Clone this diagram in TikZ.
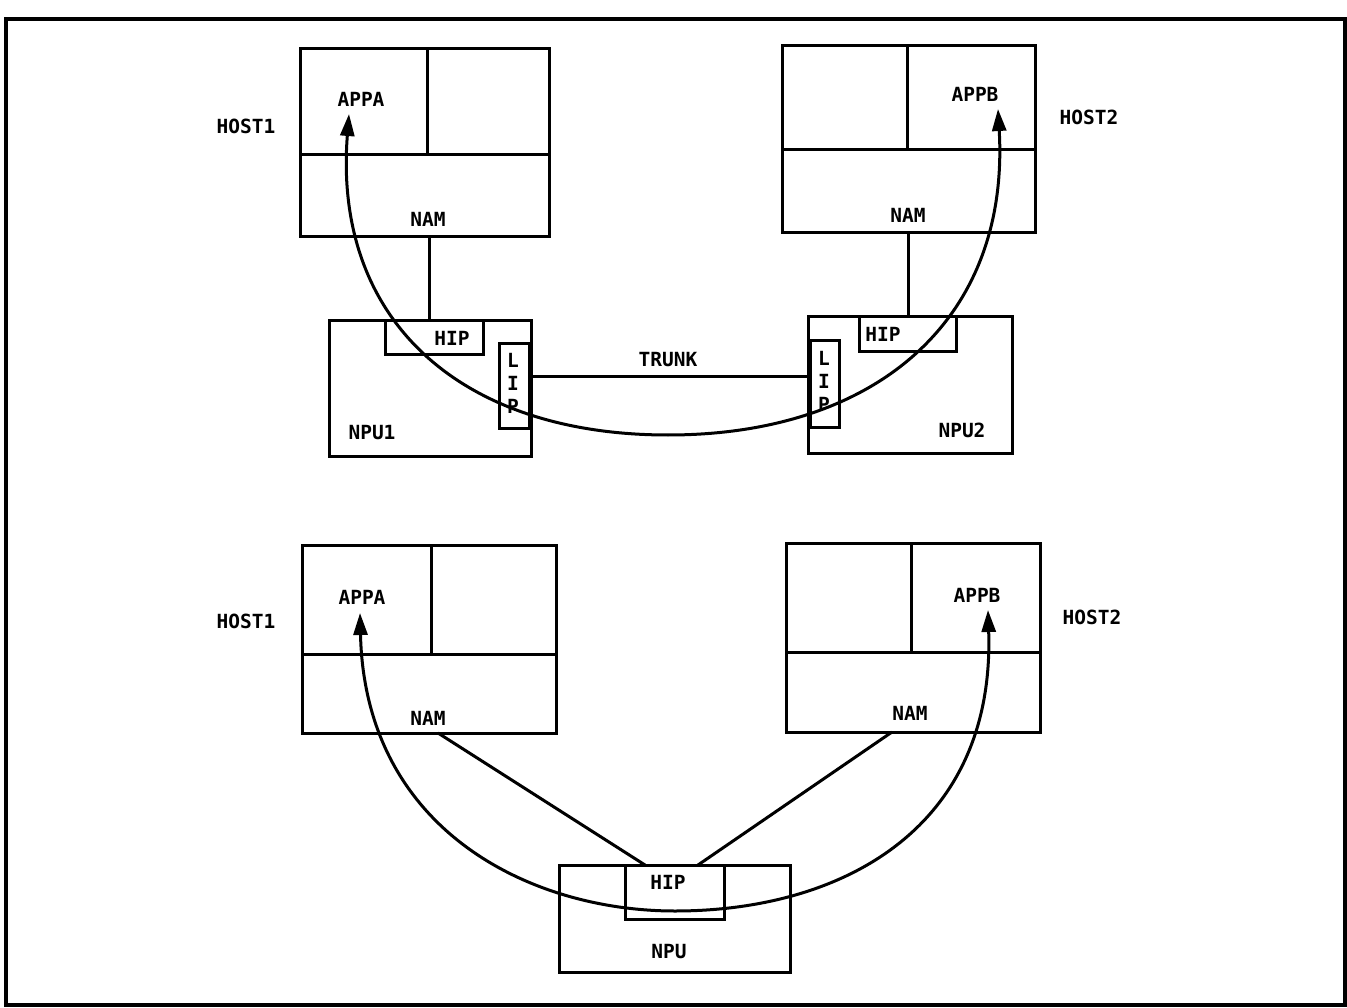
\documentclass[tikz,border=0pt]{standalone}
\usepackage{fontspec}
\newfontfamily\plotfont{DejaVu Sans Mono}
\usetikzlibrary{arrows.meta,calc}
\tikzset{
  ln/.style={line width=3pt},
  bx/.style={draw,ln,inner sep=0pt,outer sep=0pt,fill=none},
  lbl/.style={font=\plotfont\bfseries\fontsize{19.5}{23}\selectfont,inner sep=0pt},
  flow/.style={ln,{Triangle[length=22pt,width=14pt]}-{Triangle[length=22pt,width=14pt]}}
}
\begin{document}
\begin{tikzpicture}[x=1pt,y=-1pt]
\useasboundingbox (0,0) rectangle (1347,1008);
% frame
\node[bx,line width=3.8pt,minimum width=1339pt,minimum height=986pt] (frame) at (675.5,512) {};

% ---------- top diagram ----------
\node[bx,minimum width=249pt,minimum height=188pt] (h1t) at (424.5,143) {};
\draw[ln] (300,155) -- (549,155);
\draw[ln] (427,49) -- (427,155);
\node[bx,minimum width=253pt,minimum height=187pt] (h2t) at (908.5,139.5) {};
\draw[ln] (782,150) -- (1035,150);
\draw[ln] (907,46) -- (907,150);

\node[bx,minimum width=202pt,minimum height=135pt] (npu1) at (430,388.5) {};
\node[bx,minimum width=98pt,minimum height=34pt] (hip1) at (434,338) {};
\node[bx,minimum width=30pt,minimum height=84pt] (lip1) at (514,386) {};
\node[bx,minimum width=204pt,minimum height=136pt] (npu2) at (910,385) {};
\node[bx,minimum width=97pt,minimum height=35pt] (hip2) at (907.5,334.5) {};
\node[bx,minimum width=29pt,minimum height=86pt] (lip2) at (824.5,384) {};

\node[lbl] (host1t) at (246,126) {HOST1};
\node[lbl] (appat) at (361,99) {APPA};
\node[lbl] (nam1t) at (428,219) {NAM};
\node[lbl] (host2t) at (1089,117) {HOST2};
\node[lbl] (appbt) at (975,94) {APPB};
\node[lbl] (nam2t) at (908,215) {NAM};
\node[lbl] (hip1t) at (452,338) {HIP};
\node[lbl] (hip2t) at (883,334) {HIP};
\node[lbl] (trunkt) at (668,360) {TRUNK};
\node[lbl] (npu1t) at (372,433) {NPU1};
\node[lbl] (npu2t) at (962,430) {NPU2};
\node[lbl,align=center] (lip1t) at (513,383.5) {L\\I\\P};
\node[lbl,align=center] (lip2t) at (824,381) {L\\I\\P};

\coordinate (c1) at ([xshift=4.5pt]h1t.south);
\draw[ln] (c1) -- (c1 |- hip1.north);
\draw[ln] (h2t.south) -- (h2t.south |- hip2.north);
\coordinate (tr1) at ([yshift=10pt]lip1.east);
\draw[ln] (tr1) -- (tr1 -| lip2.west);

\coordinate (ta) at (349,114);
\coordinate (tm) at (668,435);
\coordinate (tb) at (998,109);
\draw[flow] (ta) .. controls (333,320) and (460,435) .. (tm)
               .. controls (876,435) and (1010,320) .. (tb);

% ---------- bottom diagram ----------
\node[bx,minimum width=254pt,minimum height=188pt] (h1b) at (429,639) {};
\draw[ln] (302,654) -- (556,654);
\draw[ln] (431,545) -- (431,654);
\node[bx,minimum width=254pt,minimum height=189pt] (h2b) at (913,637.5) {};
\draw[ln] (786,652) -- (1040,652);
\draw[ln] (911,543) -- (911,652);

\node[bx,minimum width=231pt,minimum height=107pt] (npu) at (674.5,918.5) {};
\node[bx,minimum width=99pt,minimum height=54pt] (hip3) at (674.5,892) {};

\node[lbl] (host1b) at (246,621) {HOST1};
\node[lbl] (appab) at (362,597) {APPA};
\node[lbl] (nam1b) at (428,718) {NAM};
\node[lbl] (host2b) at (1092,617) {HOST2};
\node[lbl] (appbb) at (977,595) {APPB};
\node[lbl] (nam2b) at (910,713) {NAM};
\node[lbl] (hip3t) at (668,882) {HIP};
\node[lbl] (nput) at (669,952) {NPU};

\coordinate (d1) at ([xshift=9pt]h1b.south);
\coordinate (d2) at ([xshift=20pt]hip3.north west);
\coordinate (d3) at ([xshift=-21pt]h2b.south);
\coordinate (d4) at ([xshift=-26pt]hip3.north east);
\draw[ln] (d1) -- (d2);
\draw[ln] (d3) -- (d4);

\coordinate (ba) at (360,613);
\coordinate (bm) at (675,911);
\coordinate (bb) at (988,610);
\draw[flow] (ba) .. controls (365,830) and (530,911) .. (bm)
               .. controls (840,911) and (995,830) .. (bb);
\end{tikzpicture}
\end{document}
